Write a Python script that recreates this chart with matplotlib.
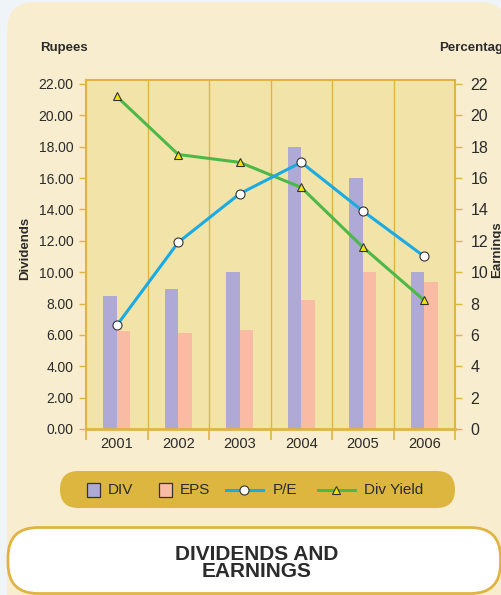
import matplotlib.pyplot as plt
from matplotlib.patches import FancyBboxPatch, Rectangle
from matplotlib.lines import Line2D

plt.rcParams['font.family'] = ['Liberation Sans', 'DejaVu Sans']

# data
years = ['2001', '2002', '2003', '2004', '2005', '2006']
div = [8.5, 8.9, 10.0, 18.0, 16.0, 10.0]
eps = [6.25, 6.1, 6.3, 8.2, 10.0, 9.4]
pe = [6.6, 11.9, 15.0, 17.0, 13.9, 11.0]
div_yield = [21.2, 17.5, 17.0, 15.4, 11.6, 8.2]
yticks = [0, 2, 4, 6, 8, 10, 12, 14, 16, 18, 20, 22]

gold = '#DFB443'
panel = '#F8EDCE'
plotbg = '#F2E3A9'
txt = '#2b2b2b'

fig = plt.figure(figsize=(5.01, 5.95), dpi=100)
fig.patch.set_facecolor('#EEF4F8')

# background drawing layer in pixel coordinates
bg = fig.add_axes([0, 0, 1, 1], zorder=0)
bg.set_xlim(0, 501)
bg.set_ylim(595, 0)
bg.axis('off')
bg.add_patch(FancyBboxPatch((7, 2), 500, 620, boxstyle='round,pad=0,rounding_size=28',
                            fc=panel, ec='none'))
# legend pill
bg.add_patch(FancyBboxPatch((60, 471), 395, 37, boxstyle='round,pad=0,rounding_size=18.5',
                            fc='#DDB640', ec='none'))
bg.add_patch(Rectangle((87, 483), 13.5, 14, fc='#AFA9D5', ec='#333333', lw=0.9))
bg.text(108, 490.5, 'DIV', fontsize=11, color=txt, va='center')
bg.add_patch(Rectangle((159, 483), 13.5, 14, fc='#F9BBA3', ec='#333333', lw=0.9))
bg.text(180, 490.5, 'EPS', fontsize=11, color=txt, va='center')
bg.add_line(Line2D([226, 263], [490, 490], color='#1AABE3', lw=2.2))
bg.plot([244], [490], 'o', ms=6.5, mfc='white', mec='#333333', mew=0.8)
bg.text(273, 490.5, 'P/E', fontsize=11, color=txt, va='center')
bg.add_line(Line2D([318, 355], [490, 490], color='#4DB848', lw=2.2))
bg.plot([336], [489.5], '^', ms=6, mfc='#F2E600', mec='#333333', mew=0.8)
bg.text(364, 490.5, 'Div Yield', fontsize=11, color=txt, va='center')
# title box
bg.add_patch(FancyBboxPatch((8, 527.5), 492.5, 66, boxstyle='round,pad=0,rounding_size=30',
                            fc='white', ec=gold, lw=2))
bg.text(257, 563, 'DIVIDENDS AND\nEARNINGS', fontsize=15, fontweight='bold',
        color=txt, ha='center', va='center', linespacing=0.92)
# axis captions (cut at the right edge as in the original)
bg.text(40, 48, 'Rupees', fontsize=9.5, fontweight='bold', color=txt, va='center')
bg.text(439, 48, 'Percentage', fontsize=9.5, fontweight='bold', color=txt, va='center')
bg.text(25, 248, 'Dividends', fontsize=9.5, fontweight='bold', color=txt,
        rotation=90, ha='center', va='center')
bg.text(497, 250, 'Earnings', fontsize=9.5, fontweight='bold', color=txt,
        rotation=90, ha='center', va='center')

# main chart
ax = fig.add_axes([86 / 501, 1 - 429 / 595, 369 / 501, 349 / 595], zorder=2)
ax.set_facecolor(plotbg)
x = list(range(len(years)))
w = 0.22
ax.bar([i - w / 2 for i in x], div, width=w, color='#AFA9D5', zorder=2)
ax.bar([i + w / 2 for i in x], eps, width=w, color='#F9BBA3', zorder=2)
ax.plot(x, pe, color='#1AABE3', lw=2.2, marker='o', ms=6.5, mfc='white',
        mec='#333333', mew=0.8, zorder=4)
ax.plot(x, div_yield, color='#4DB848', lw=2.2, marker='^', ms=6, mfc='#F2E600',
        mec='#333333', mew=0.8, zorder=3)

ax.set_xlim(-0.5, len(years) - 0.5)
ax.set_ylim(0, 22.25)
for b in [i + 0.5 for i in x[:-1]]:
    ax.axvline(b, color=gold, lw=1, zorder=1)

ax.set_xticks(x)
ax.set_xticklabels(years)
ax.set_xticks([i - 0.5 for i in range(len(years) + 1)], minor=True)
ax.tick_params(axis='x', which='major', length=0, pad=6, labelsize=10.5, labelcolor=txt)
ax.tick_params(axis='x', which='minor', length=8, width=1.2, color=gold)
ax.set_yticks(yticks)
ax.set_yticklabels(['%.2f' % v for v in yticks])
ax.tick_params(axis='y', length=5, width=1, color=gold, pad=4, labelsize=10, labelcolor=txt)
for s in ['top', 'left', 'right']:
    ax.spines[s].set_color(gold)
    ax.spines[s].set_linewidth(1.5)
ax.spines['bottom'].set_color(gold)
ax.spines['bottom'].set_linewidth(2)

ax2 = ax.twinx()
ax2.set_ylim(ax.get_ylim())
ax2.set_yticks(yticks)
ax2.set_yticklabels([str(v) for v in yticks])
ax2.tick_params(axis='y', length=5, width=1, color=gold, pad=6, labelsize=11.5, labelcolor=txt)
for s in ax2.spines.values():
    s.set_visible(False)

fig.savefig('out.png', dpi=100, facecolor=fig.get_facecolor())
